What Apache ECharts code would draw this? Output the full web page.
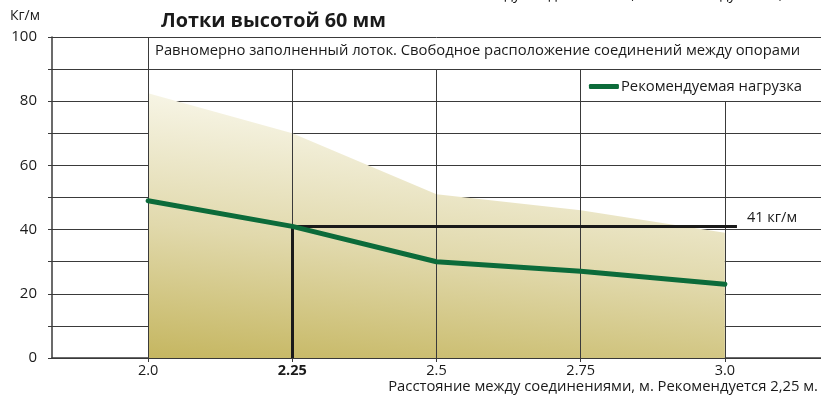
<!DOCTYPE html>
<html>
<head>
<meta charset="utf-8">
<script src="https://cdn.jsdelivr.net/npm/echarts@6/dist/echarts.min.js"></script>
<style>
  html, body { margin: 0; padding: 0; background: #fff; }
  #chart { width: 821px; height: 396px; }
</style>
</head>
<body>
<div id="chart"></div>
<script>
// Spans between joints, m
const spans = [2.0, 2.25, 2.5, 2.75, 3.0];
const spanLabels = ['2.0', '2.25', '2.5', '2.75', '3.0'];
// Maximum load envelope, kg/m (shaded area)
const maxLoad = [82.5, 70, 51, 46, 39];
// Recommended load, kg/m
const recommendedLoad = [49, 41, 30, 27, 23];
// Recommended span and its load
const recSpan = 2.25;
const recLoad = 41;
// Y tick values that carry a label
const yLabelValues = [0, 20, 40, 60, 80, 100];

const FONT = '"Open Sans", "Noto Sans", sans-serif';
const GRID = '#3a3a3a';
const TXT = '#1a1a1a';

const chart = echarts.init(document.getElementById('chart'), null, { renderer: 'canvas' });

const pairs = (xs, ys) => xs.map((x, i) => [x, ys[i]]);

// Vertical grid lines: each stops below the text rows at the top
const vTops = [100, 90, 90, 90, 80];
const vLines = spans.map((x, i) => [{ coord: [x, 0] }, { coord: [x, vTops[i]] }]);

chart.setOption({
  animation: false,
  textStyle: { fontFamily: FONT },
  title: {
    text: 'Лотки высотой 60 мм',
    left: 156, top: 6,
    textStyle: { fontFamily: FONT, fontSize: 19.8, fontWeight: 'bold', color: TXT }
  },
  legend: {
    data: ['Рекомендуемая нагрузка'],
    right: 14, top: 74,
    itemWidth: 30, itemHeight: 5, itemGap: 5,
    icon: 'roundRect',
    textStyle: { fontFamily: FONT, fontSize: 14.8, color: TXT, padding: [0, 0, 0, -3] }
  },
  grid: { left: 52, right: 0, top: 37, bottom: 38, containLabel: false },
  xAxis: {
    type: 'value',
    min: 1.8333, max: 3.1667,
    name: 'Расстояние между соединениями, м. Рекомендуется 2,25 м.',
    nameLocation: 'end',
    nameGap: 0,
    nameTextStyle: {
      fontFamily: FONT, fontSize: 14.8, color: TXT,
      align: 'right', verticalAlign: 'top', padding: [21, 3, 0, 0]
    },
    axisLine: { show: true, lineStyle: { color: GRID, width: 1.5 } },
    axisTick: { show: true, length: 4, lineStyle: { color: GRID }, customValues: spans },
    axisLabel: {
      customValues: spans,
      fontFamily: FONT, fontSize: 14.5, color: TXT, margin: 5,
      formatter: function (v) {
        const i = spans.findIndex(s => Math.abs(s - v) < 1e-6);
        const t = i >= 0 ? spanLabels[i] : '';
        return Math.abs(v - recSpan) < 1e-6 ? '{b|' + t + '}' : t;
      },
      rich: { b: { fontFamily: FONT, fontSize: 14.5, fontWeight: 'bold', color: TXT } }
    },
    splitLine: { show: false }
  },
  yAxis: {
    type: 'value',
    min: 0, max: 100, interval: 10,
    name: 'Кг/м',
    nameLocation: 'end',
    nameGap: 14,
    nameTextStyle: { fontFamily: FONT, fontSize: 14, color: TXT, align: 'right', padding: [0, 12, 0, 0] },
    axisLine: { show: true, lineStyle: { color: GRID, width: 1.5 } },
    axisTick: { show: true, length: 4, inside: false, lineStyle: { color: GRID } },
    axisLabel: {
      fontFamily: FONT, fontSize: 15, color: TXT, margin: 15,
      formatter: v => (yLabelValues.includes(v) ? String(v) : '')
    },
    splitLine: { show: true, lineStyle: { color: GRID, width: 1 } }
  },
  graphic: [
    {
      // Repeated axis caption cut off at the top edge
      type: 'text', right: 3, top: -13, z: 10,
      style: {
        text: 'Расстояние между соединениями, м. Рекомендуется 2,25 м.',
        font: '14.8px ' + FONT, fill: TXT
      }
    },
    {
      type: 'text', left: 155, top: 43, z: 10,
      style: {
        text: 'Равномерно заполненный лоток. Свободное расположение соединений между опорами',
        font: '14.8px ' + FONT, fill: TXT
      }
    }
  ],
  series: [
    {
      name: 'Максимальная нагрузка',
      type: 'line',
      data: pairs(spans, maxLoad),
      symbol: 'none',
      smooth: false,
      lineStyle: { width: 0 },
      areaStyle: {
        opacity: 1,
        color: new echarts.graphic.LinearGradient(0, 1, 0.05, 0, [
          { offset: 0, color: '#c5b660' },
          { offset: 0.5, color: '#e1d9ac' },
          { offset: 1, color: '#f7f5e6' }
        ])
      },
      z: 1,
      silent: true,
      markLine: {
        silent: true,
        symbol: 'none',
        label: { show: false },
        lineStyle: { color: GRID, width: 1, type: 'solid' },
        data: vLines
      }
    },
    {
      name: 'Рекомендуемая нагрузка',
      type: 'line',
      data: pairs(spans, recommendedLoad),
      symbol: 'none',
      color: '#0c6b3a',
      lineStyle: { width: 5, color: '#0c6b3a', cap: 'round' },
      z: 5,
      markLine: {
        silent: true,
        symbol: 'none',
        lineStyle: { color: TXT, width: 3, type: 'solid' },
        data: [
          [{ coord: [recSpan, 0] }, { coord: [recSpan, recLoad] }],
          [
            { coord: [recSpan, recLoad] },
            {
              coord: [3.021, recLoad],
              label: {
                show: true, position: 'end', formatter: recLoad + ' кг/м',
                fontFamily: FONT, fontSize: 14.5, color: TXT,
                distance: 10, offset: [0, -9]
              }
            }
          ]
        ],
        label: { show: false }
      }
    }
  ]
});
</script>
</body>
</html>
